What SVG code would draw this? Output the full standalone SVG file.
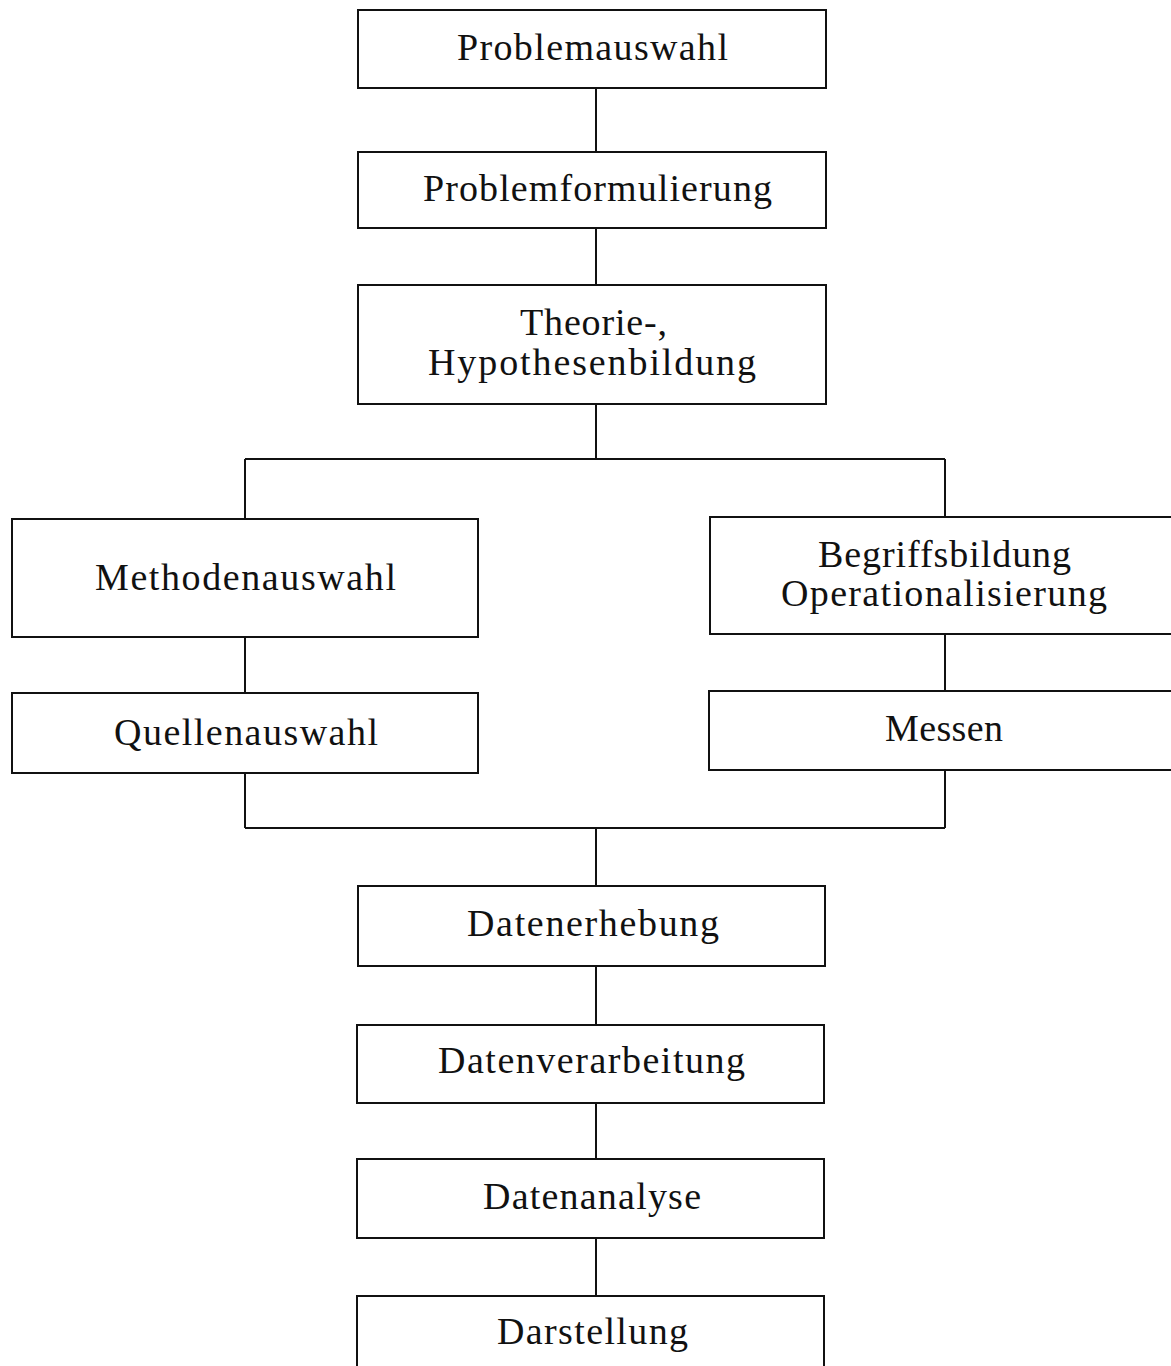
<svg xmlns="http://www.w3.org/2000/svg" width="1171" height="1366" viewBox="0 0 1171 1366">
<style>
.box{fill:#fff;stroke:#111;stroke-width:2}
.lbl{font-family:"Liberation Serif","Times New Roman",serif;font-size:38px;fill:#111}
.con{stroke:#111;stroke-width:2;fill:none}
</style>
<rect width="1171" height="1366" fill="#fff"/>
<g id="connectors">
<path class="con" d="M596 88V152M596 228V285M596 404V459M245 459H945M245 459V519M945 459V517M245 637V693M945 634V691M245 773V828M945 770V828M245 828H945M596 828V886M596 966V1025M596 1103V1159M596 1238V1296"/>
</g>
<g id="n1"><rect class="box" x="358" y="10" width="468" height="78"/><text class="lbl" x="457" y="60" textLength="271" lengthAdjust="spacing">Problemauswahl</text></g>
<g id="n2"><rect class="box" x="358" y="152" width="468" height="76"/><text class="lbl" x="423" y="201" textLength="349" lengthAdjust="spacing">Problemformulierung</text></g>
<g id="n3"><rect class="box" x="358" y="285" width="468" height="119"/><text class="lbl" x="520" y="335" textLength="147" lengthAdjust="spacing">Theorie-,</text><text class="lbl" x="428" y="375" textLength="328" lengthAdjust="spacing">Hypothesenbildung</text></g>
<g id="n4"><rect class="box" x="12" y="519" width="466" height="118"/><text class="lbl" x="95" y="590" textLength="301" lengthAdjust="spacing">Methodenauswahl</text></g>
<g id="n5"><rect class="box" x="710" y="517" width="480" height="117"/><text class="lbl" x="818" y="567" textLength="253" lengthAdjust="spacing">Begriffsbildung</text><text class="lbl" x="781" y="606" textLength="326" lengthAdjust="spacing">Operationalisierung</text></g>
<g id="n6"><rect class="box" x="12" y="693" width="466" height="80"/><text class="lbl" x="114" y="745" textLength="264" lengthAdjust="spacing">Quellenauswahl</text></g>
<g id="n7"><rect class="box" x="709" y="691" width="480" height="79"/><text class="lbl" x="885" y="741" textLength="118" lengthAdjust="spacing">Messen</text></g>
<g id="n8"><rect class="box" x="358" y="886" width="467" height="80"/><text class="lbl" x="467" y="936" textLength="252" lengthAdjust="spacing">Datenerhebung</text></g>
<g id="n9"><rect class="box" x="357" y="1025" width="467" height="78"/><text class="lbl" x="438" y="1073" textLength="307" lengthAdjust="spacing">Datenverarbeitung</text></g>
<g id="n10"><rect class="box" x="357" y="1159" width="467" height="79"/><text class="lbl" x="483" y="1209" textLength="218" lengthAdjust="spacing">Datenanalyse</text></g>
<g id="n11"><rect class="box" x="357" y="1296" width="467" height="90"/><text class="lbl" x="497" y="1344" textLength="191" lengthAdjust="spacing">Darstellung</text></g>
</svg>
